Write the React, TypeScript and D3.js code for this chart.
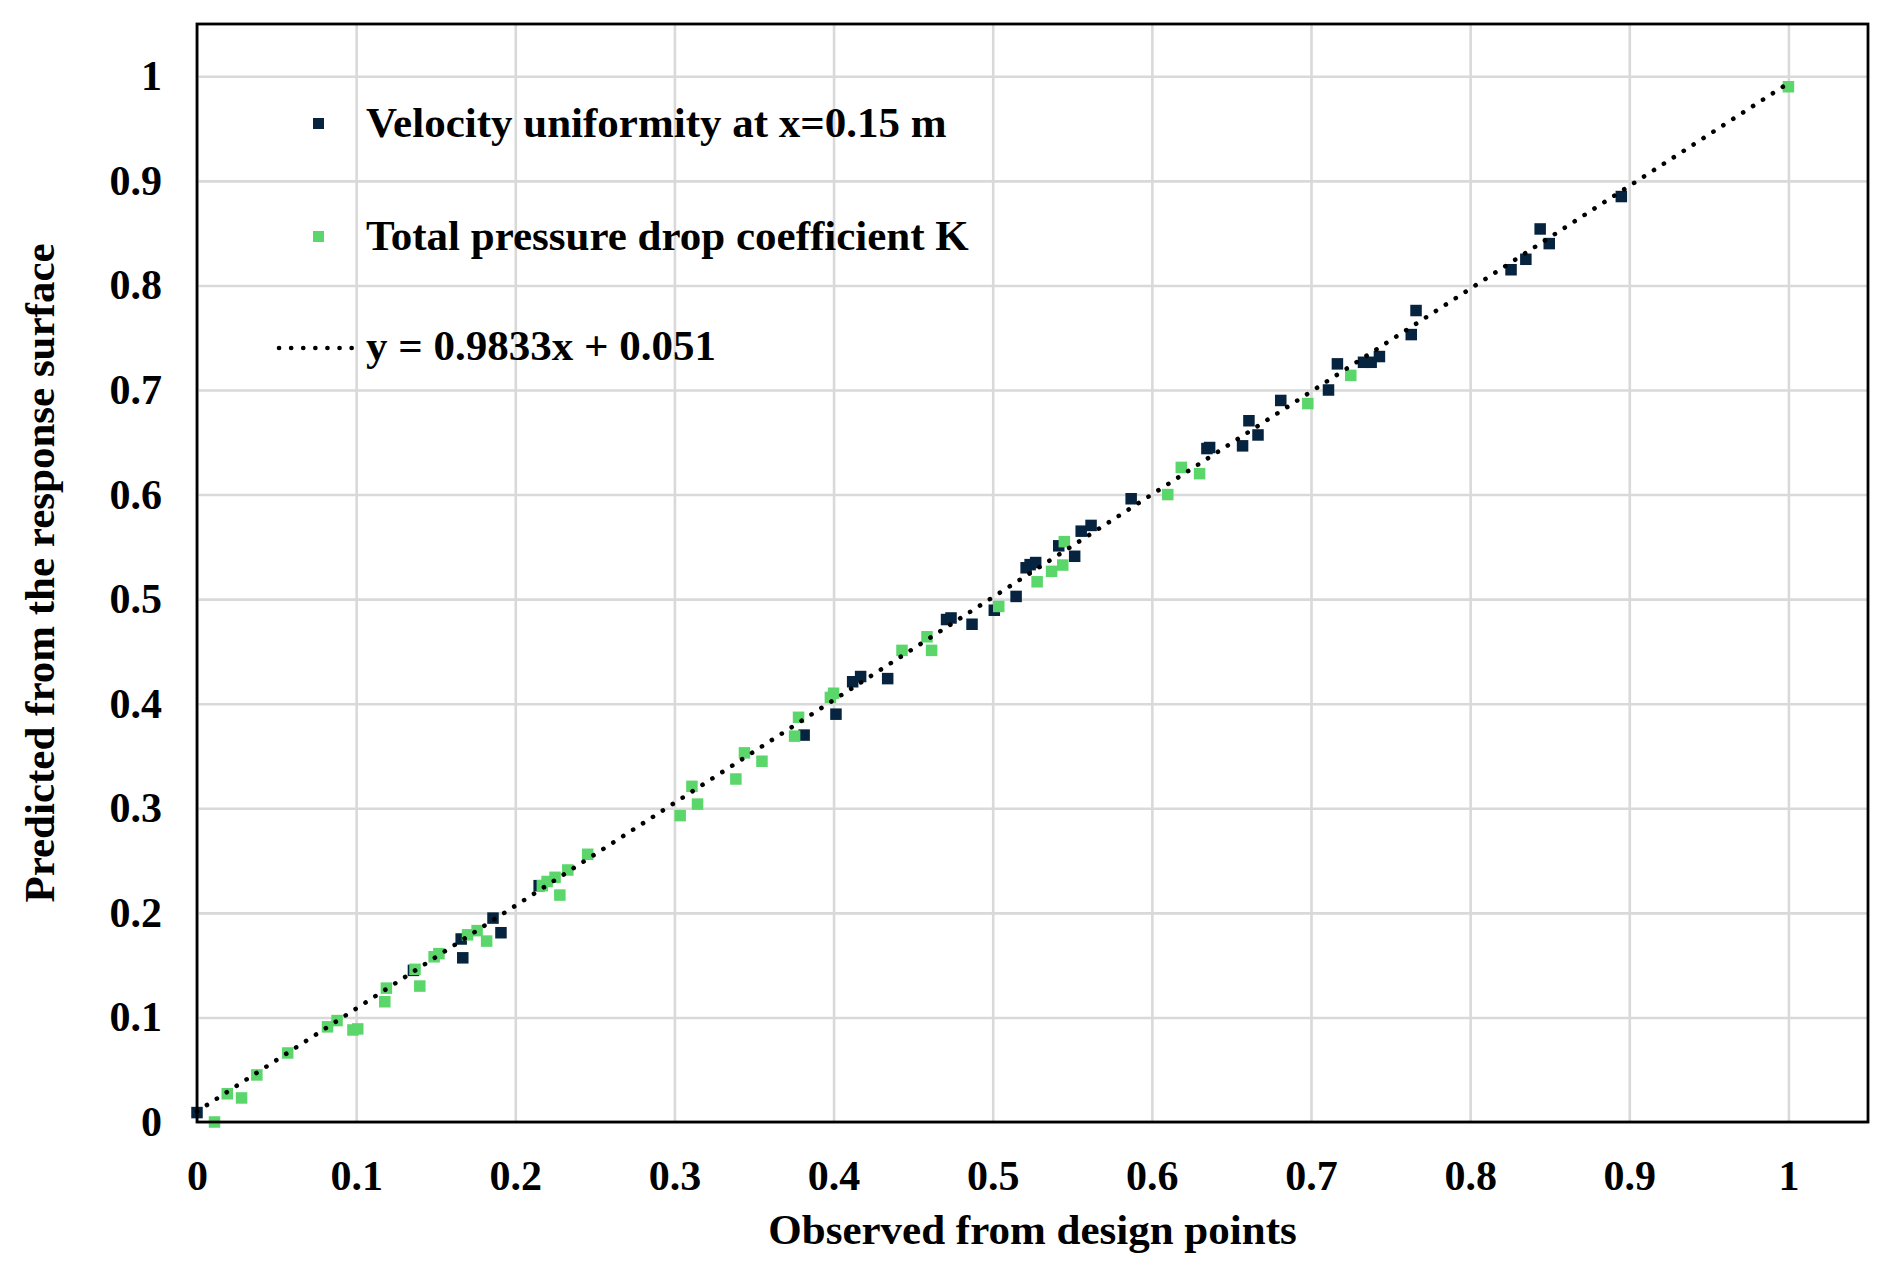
import { useEffect, useRef } from 'react';
import * as d3 from 'd3';

// Velocity uniformity at x=0.15 m (dark squares)
const velocityObserved = [
  0.0, 0.136, 0.166, 0.167, 0.186, 0.191, 0.215, 0.3815, 0.4015, 0.412, 0.417, 0.434,
  0.471, 0.4738, 0.487, 0.501, 0.5147, 0.521, 0.5235, 0.527, 0.5415, 0.5515, 0.5556,
  0.5618, 0.587, 0.6346, 0.6363, 0.657, 0.661, 0.6667, 0.681, 0.711, 0.7166, 0.733,
  0.7378, 0.743, 0.763, 0.766, 0.8257, 0.835, 0.844, 0.8497, 0.895,
];
const velocityPredicted = [
  0.009, 0.145, 0.175, 0.157, 0.195, 0.181, 0.226, 0.37, 0.39, 0.421, 0.426, 0.424,
  0.4805, 0.482, 0.476, 0.4894, 0.5026, 0.53, 0.533, 0.535, 0.551, 0.541, 0.565,
  0.5705, 0.596, 0.644, 0.645, 0.6466, 0.6706, 0.657, 0.69, 0.7, 0.725, 0.7265,
  0.7265, 0.732, 0.753, 0.776, 0.815, 0.825, 0.854, 0.84, 0.885,
];

// Total pressure drop coefficient K (green squares)
const pressureObserved = [
  0.011, 0.019, 0.028, 0.0376, 0.057, 0.082, 0.088, 0.098, 0.101, 0.118, 0.119, 0.137,
  0.14, 0.149, 0.152, 0.17, 0.176, 0.182, 0.217, 0.22, 0.225, 0.228, 0.233, 0.2455,
  0.3036, 0.3145, 0.311, 0.3386, 0.344, 0.355, 0.3755, 0.378, 0.398, 0.4, 0.443,
  0.4587, 0.4616, 0.5038, 0.5279, 0.537, 0.544, 0.545, 0.61, 0.6185, 0.63, 0.698,
  0.725, 1.0,
];
const pressurePredicted = [
  0.0, 0.027, 0.023, 0.045, 0.066, 0.091, 0.097, 0.088, 0.089, 0.115, 0.128, 0.146,
  0.13, 0.158, 0.161, 0.179, 0.183, 0.173, 0.226, 0.23, 0.234, 0.217, 0.241, 0.256,
  0.293, 0.304, 0.321, 0.328, 0.353, 0.345, 0.369, 0.387, 0.406, 0.41, 0.451,
  0.464, 0.451, 0.493, 0.5166, 0.5266, 0.5326, 0.555, 0.6, 0.626, 0.62, 0.687,
  0.714, 0.99,
];

const tickValues = [0, 0.1, 0.2, 0.3, 0.4, 0.5, 0.6, 0.7, 0.8, 0.9, 1];
const tickLabels = ['0', '0.1', '0.2', '0.3', '0.4', '0.5', '0.6', '0.7', '0.8', '0.9', '1'];

// linear fit drawn across the observed range
const trendSlope = 0.9833;
const trendIntercept = 0.0101;
const trendRange = [0, 1];
const trendLabel = 'y = 0.9833x + 0.051';

const seriesNames = ['Velocity uniformity at x=0.15 m', 'Total pressure drop coefficient K'];
const seriesColors = ['#06243f', '#5bd66b'];

const xTitle = 'Observed from design points';
const yTitle = 'Predicted from the response surface';

const WIDTH = 1884;
const HEIGHT = 1266;
const FONT = '"Liberation Serif", "Times New Roman", serif';

export default function App() {
  const svgRef = useRef<SVGSVGElement>(null);

  useEffect(() => {
    if (!svgRef.current) return;
    const svg = d3.select(svgRef.current);
    svg.selectAll('*').remove();

    const margin = { top: 24, right: 16, bottom: 144, left: 197 };
    const innerWidth = WIDTH - margin.left - margin.right;
    const innerHeight = HEIGHT - margin.top - margin.bottom;

    const xScale = d3.scaleLinear().domain([0, 1.05]).range([0, innerWidth]);
    const yScale = d3.scaleLinear().domain([0, 1.05]).range([innerHeight, 0]);

    const g = svg.append('g').attr('transform', `translate(${margin.left},${margin.top})`);

    // Grid lines
    g.append('g')
      .call(d3.axisBottom(xScale).tickValues(tickValues).tickSize(innerHeight).tickFormat(() => ''))
      .call((sel) => sel.select('.domain').remove())
      .selectAll('line')
      .attr('stroke', '#d9d9d9')
      .attr('stroke-width', 2.6);

    g.append('g')
      .call(d3.axisLeft(yScale).tickValues(tickValues).tickSize(-innerWidth).tickFormat(() => ''))
      .call((sel) => sel.select('.domain').remove())
      .selectAll('line')
      .attr('stroke', '#d9d9d9')
      .attr('stroke-width', 2.6);

    // Tick labels
    g.append('g')
      .attr('transform', `translate(0,${innerHeight})`)
      .call(d3.axisBottom(xScale).tickValues(tickValues).tickSize(0).tickPadding(38).tickFormat((_, i) => tickLabels[i]))
      .call((sel) => sel.select('.domain').remove())
      .selectAll('text')
      .attr('font-family', FONT)
      .attr('font-weight', 'bold')
      .attr('font-size', '42px')
      .attr('fill', '#000');

    g.append('g')
      .call(d3.axisLeft(yScale).tickValues(tickValues).tickSize(0).tickPadding(35).tickFormat((_, i) => tickLabels[i]))
      .call((sel) => sel.select('.domain').remove())
      .selectAll('text')
      .attr('font-family', FONT)
      .attr('font-weight', 'bold')
      .attr('font-size', '42px')
      .attr('fill', '#000');

    // Scatter series
    const series = [
      { xs: velocityObserved, ys: velocityPredicted, color: seriesColors[0] },
      { xs: pressureObserved, ys: pressurePredicted, color: seriesColors[1] },
    ];
    const size = 11.5;
    series.forEach((s) => {
      g.append('g')
        .selectAll('rect')
        .data(s.xs.map((x, i) => [x, s.ys[i]]))
        .join('rect')
        .attr('x', (d) => xScale(d[0]) - size / 2)
        .attr('y', (d) => yScale(d[1]) - size / 2)
        .attr('width', size)
        .attr('height', size)
        .attr('fill', s.color);
    });

    // Trend line
    const trend = d3
      .line<number>()
      .x((d) => xScale(d))
      .y((d) => yScale(trendSlope * d + trendIntercept));

    g.append('path')
      .datum(trendRange)
      .attr('d', trend)
      .attr('fill', 'none')
      .attr('stroke', '#000')
      .attr('stroke-width', 4.6)
      .attr('stroke-linecap', 'round')
      .attr('stroke-dasharray', '0.1,11.7');

    // Plot border
    g.append('rect')
      .attr('width', innerWidth)
      .attr('height', innerHeight)
      .attr('fill', 'none')
      .attr('stroke', '#000')
      .attr('stroke-width', 2.8);

    // Legend
    const legend = svg.append('g');
    const rows = [137, 250, 360];
    seriesNames.forEach((name, i) => {
      legend
        .append('rect')
        .attr('x', 313)
        .attr('y', rows[i] - 19)
        .attr('width', 11)
        .attr('height', 11)
        .attr('fill', seriesColors[i]);
      legend
        .append('text')
        .attr('x', 366)
        .attr('y', rows[i])
        .attr('font-family', FONT)
        .attr('font-weight', 'bold')
        .attr('font-size', '43px')
        .text(name);
    });
    legend
      .append('line')
      .attr('x1', 279)
      .attr('x2', 352)
      .attr('y1', rows[2] - 12)
      .attr('y2', rows[2] - 12)
      .attr('stroke', '#000')
      .attr('stroke-width', 4.6)
      .attr('stroke-linecap', 'round')
      .attr('stroke-dasharray', '0.1,12');
    legend
      .append('text')
      .attr('x', 366)
      .attr('y', rows[2])
      .attr('font-family', FONT)
      .attr('font-weight', 'bold')
      .attr('font-size', '43px')
      .text(trendLabel);

    // Axis titles
    svg
      .append('text')
      .attr('x', margin.left + innerWidth / 2)
      .attr('y', 1244)
      .attr('text-anchor', 'middle')
      .attr('font-family', FONT)
      .attr('font-weight', 'bold')
      .attr('font-size', '43px')
      .text(xTitle);

    svg
      .append('text')
      .attr('transform', `translate(54,${margin.top + innerHeight / 2}) rotate(-90)`)
      .attr('text-anchor', 'middle')
      .attr('font-family', FONT)
      .attr('font-weight', 'bold')
      .attr('font-size', '43px')
      .text(yTitle);
  }, []);

  return (
    <svg
      ref={svgRef}
      width={WIDTH}
      height={HEIGHT}
      style={{ position: 'absolute', left: 0, top: 0, background: '#fff' }}
    />
  );
}
